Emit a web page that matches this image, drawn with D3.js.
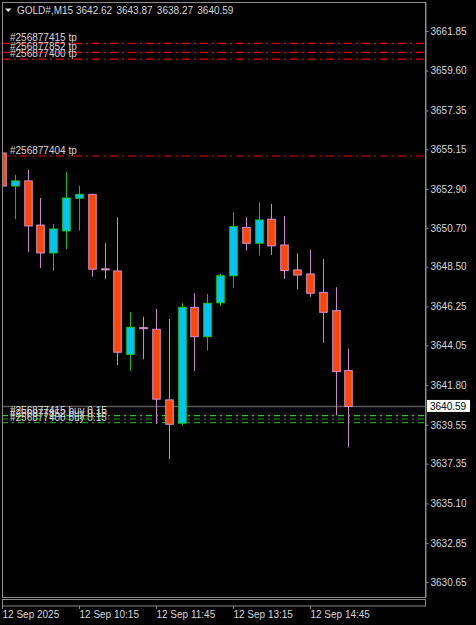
<!DOCTYPE html>
<html>
<head>
<meta charset="utf-8">
<script src="https://cdn.jsdelivr.net/npm/d3@7"></script>
<style>
	html, body { margin: 0; padding: 0; background: #000; }
	svg { display: block; }
	text { font-family: "Liberation Sans", Arial, sans-serif; font-size: 10px; fill: #d8d8d8; }
</style>
</head>
<body>
<svg id="chart" width="476" height="625"></svg>
<script>
// GOLD#, M15, 12 Sep 2025
var symbol = 'GOLD#,M15';
var times = ['08:45','09:00','09:15','09:30','09:45','10:00','10:15','10:30','10:45','11:00',
	'11:15','11:30','11:45','12:00','12:15','12:30','12:45','13:00','13:15','13:30',
	'13:45','14:00','14:15','14:30','14:45','15:00','15:15','15:30'];
var opens = [3654.94,3653.07,3653.36,3650.86,3649.28,3650.53,3652.38,3652.60,3648.38,3648.26,
	3643.54,3645.05,3644.96,3640.96,3639.64,3646.20,3644.54,3646.46,3647.99,3650.73,
	3649.83,3651.19,3649.73,3648.32,3648.09,3647.05,3646.01,3642.62];
var highs = [3655.11,3653.70,3653.98,3652.39,3650.92,3653.87,3653.09,3652.62,3649.83,3651.30,
	3645.94,3645.67,3646.11,3645.54,3646.43,3647.00,3646.96,3648.09,3651.58,3651.30,
	3652.15,3652.05,3651.37,3649.26,3649.45,3648.94,3647.34,3643.87];
var lows = [3652.00,3651.20,3649.34,3648.43,3648.26,3649.51,3650.54,3647.94,3647.79,3642.94,
	3642.60,3643.26,3639.60,3637.61,3639.50,3642.60,3643.75,3646.28,3647.31,3649.41,
	3649.13,3649.17,3647.81,3647.22,3646.80,3644.20,3640.07,3638.27];
var closes = [3653.07,3653.36,3650.81,3649.28,3650.64,3652.39,3652.60,3648.36,3648.36,3643.66,
	3645.07,3645.02,3641.00,3639.58,3646.20,3644.54,3646.43,3647.99,3650.77,3649.83,
	3651.15,3649.68,3648.28,3648.03,3647.00,3645.92,3642.56,3640.59];

var yTicks = [3661.85,3659.60,3657.35,3655.15,3652.90,3650.70,3648.50,3646.25,3644.05,
	3641.80,3639.55,3637.35,3635.10,3632.85,3630.65];
var xTickTimes = ['08:45','10:15','11:45','13:15','14:45'];
var xTickLabels = ['12 Sep 2025','12 Sep 10:15','12 Sep 11:45','12 Sep 13:15','12 Sep 14:45'];

var tpIds = ['#256877415','#256877852','#256877400','#256877404'];
var tpLevels = [3661.15,3660.64,3660.25,3654.77];
var buyIds = ['#256877415','#256877852','#256877400'];
var buyLevels = [3640.07,3639.88,3639.67];
var buyLots = [0.15,0.15,0.15];

var bid = 3640.59;

var parseTime = function(s){
	var p = s.split(':');
	return new Date(2025, 8, 12, +p[0], +p[1]);
};

// plot area (top is a reserved window name, so prefix everything)
var pLeft = 2, pTop = 2, pRight = 425, pBottom = 597;

var svg = d3.select('#chart');

var x = d3.scaleTime()
	.domain([parseTime(times[0]), parseTime(times[times.length-1])])
	.range([2, 348.4]);

var y = d3.scaleLinear()
	.domain([3629.80, 3663.49])
	.range([pBottom, pTop]);

var bars = times.map(function(t, i){
	return {t: parseTime(t), o: opens[i], h: highs[i], l: lows[i], c: closes[i]};
});

svg.append('defs').append('clipPath').attr('id', 'plot')
	.append('rect')
	.attr('x', pLeft + 1).attr('y', pTop + 1)
	.attr('width', pRight - pLeft - 1).attr('height', pBottom - pTop - 1);

// frame
svg.append('rect')
	.attr('x', pLeft + 0.5).attr('y', pTop + 0.5)
	.attr('width', pRight - pLeft).attr('height', pBottom - pTop)
	.attr('fill', 'none').attr('stroke', '#8a8a8a');

svg.append('rect')
	.attr('x', pLeft + 0.5).attr('y', 599.5)
	.attr('width', pRight - pLeft).attr('height', 6.5)
	.attr('fill', 'none').attr('stroke', '#8a8a8a');

var plot = svg.append('g').attr('clip-path', 'url(#plot)');

// bid line
plot.append('line')
	.attr('x1', pLeft).attr('x2', pRight)
	.attr('y1', Math.round(y(bid)) + 0.5).attr('y2', Math.round(y(bid)) + 0.5)
	.attr('stroke', '#5a5a5a').attr('stroke-width', 1.5);

// take profit lines
var tp = plot.append('g').attr('class', 'tp');
tp.selectAll('line').data(tpLevels).enter().append('line')
	.attr('x1', pLeft).attr('x2', pRight)
	.attr('y1', function(d){ return y(d); })
	.attr('y2', function(d){ return y(d); })
	.attr('stroke', '#e80000').attr('stroke-width', 1.2)
	.attr('stroke-dasharray', '8,4,2,4');

tp.selectAll('text').data(tpLevels).enter().append('text')
	.attr('x', 10)
	.attr('y', function(d){ return y(d) - 2; })
	.text(function(d, i){ return tpIds[i] + ' tp'; });

// buy lines
var buy = plot.append('g').attr('class', 'buy');
buy.selectAll('line').data(buyLevels).enter().append('line')
	.attr('x1', pLeft).attr('x2', pRight)
	.attr('y1', function(d){ return y(d); })
	.attr('y2', function(d){ return y(d); })
	.attr('stroke', function(d, i){ return i === 0 ? '#28c828' : '#1e9a1e'; })
	.attr('stroke-width', 1.2)
	.attr('stroke-dasharray', '6,4,2,4');

buy.selectAll('text').data(buyLevels).enter().append('text')
	.attr('x', 10)
	.attr('y', function(d){ return y(d) - 2; })
	.text(function(d, i){ return buyIds[i] + ' buy ' + buyLots[i].toFixed(2); });

// candles
var bodyW = 7.5;
var candles = plot.append('g').attr('class', 'candles')
	.selectAll('g').data(bars).enter().append('g');

var isBull = function(d){ return d.c > d.o; };

candles.append('line')
	.attr('x1', function(d){ return Math.round(x(d.t)) + 0.5; })
	.attr('x2', function(d){ return Math.round(x(d.t)) + 0.5; })
	.attr('y1', function(d){ return y(d.h); })
	.attr('y2', function(d){ return y(d.l); })
	.attr('stroke', function(d){ return isBull(d) ? '#10c010' : '#c987c9'; });

candles.append('rect')
	.attr('x', function(d){ return Math.round(x(d.t)) + 0.5 - bodyW/2; })
	.attr('y', function(d){ return y(Math.max(d.o, d.c)); })
	.attr('width', bodyW)
	.attr('height', function(d){ return Math.max(1, Math.abs(y(d.o) - y(d.c))); })
	.attr('fill', function(d){ return isBull(d) ? '#00c3ff' : '#ff4500'; })
	.attr('stroke', function(d){ return isBull(d) ? '#12d012' : '#d690d6'; })
	.attr('stroke-width', 1);

// y axis
var yAxis = svg.append('g')
	.attr('transform', 'translate(' + (pRight + 0.5) + ',0)')
	.call(d3.axisRight(y).tickValues(yTicks).tickSize(3).tickSizeOuter(0).tickPadding(2)
		.tickFormat(d3.format('.2f')));
yAxis.select('.domain').attr('stroke', '#8a8a8a');
yAxis.selectAll('.tick line').attr('stroke', '#8a8a8a');
yAxis.selectAll('.tick text').attr('fill', '#d8d8d8')
	.style('font-family', '"Liberation Sans", Arial, sans-serif').style('font-size', '10px');

// x axis
var xAxis = svg.append('g')
	.attr('transform', 'translate(0,606)')
	.call(d3.axisBottom(x).tickValues(xTickTimes.map(parseTime)).tickSize(3).tickSizeOuter(0)
		.tickFormat(function(d, i){ return xTickLabels[i]; }));
xAxis.select('.domain').remove();
xAxis.selectAll('.tick line').attr('stroke', '#8a8a8a');
xAxis.selectAll('.tick text')
	.attr('text-anchor', 'start').attr('y', 5).attr('dy', '0.71em')
	.attr('fill', '#d8d8d8')
	.style('font-family', '"Liberation Sans", Arial, sans-serif').style('font-size', '10px');

// current price box
var bidY = y(bid);
svg.append('rect')
	.attr('x', 427).attr('y', bidY - 6.5)
	.attr('width', 43).attr('height', 12)
	.attr('fill', '#fff');
svg.append('text')
	.attr('x', 430).attr('y', bidY + 3.5)
	.style('fill', '#000')
	.text(bid.toFixed(2));

// header
svg.append('path')
	.attr('d', d3.line()([[5, 8.5], [11.5, 8.5], [8.25, 12]]) + 'Z')
	.attr('fill', '#e0e0e0');
svg.append('text').attr('x', 17).attr('y', 13.5).text(symbol);
svg.append('text').attr('x', 76).attr('y', 13.5)
	.style('word-spacing', '1.5px')
	.text([opens[27], highs[27], lows[27], closes[27]].map(function(v){ return v.toFixed(2); }).join(' '));
</script>
</body>
</html>
